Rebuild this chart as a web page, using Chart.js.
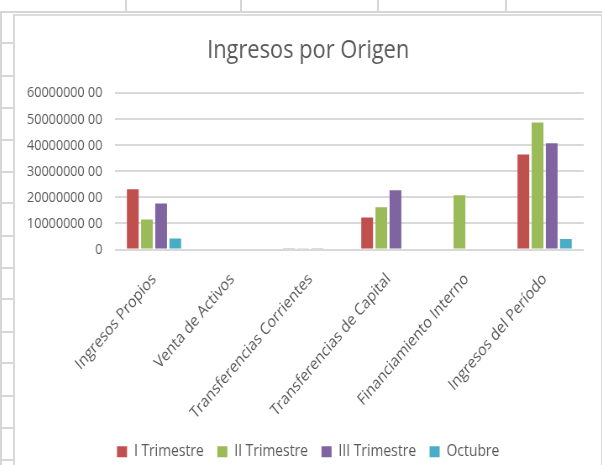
<!DOCTYPE html>
<html>
<head>
<meta charset="utf-8">
<script src="https://cdn.jsdelivr.net/npm/chart.js@4.4.1/dist/chart.umd.min.js"></script>
<style>
  html, body { margin: 0; padding: 0; background: #ffffff; overflow: hidden; }
  body { width: 602px; height: 465px; position: relative; }
  .ln { position: absolute; background: #d6d6d6; }
  #panel { position: absolute; left: 13px; top: 14px; width: 586px; height: 460px;
           background: #ffffff; border-left: 2px solid #d9d9d9; border-top: 2px solid #dcdcdc;
           border-right: 2px solid #d9d9d9; overflow: hidden; }
  #c { position: absolute; left: 0; top: -2px; transform: scaleX(0.84); transform-origin: 0 0; }
</style>
</head>
<body>
<div id="bg"></div>
<div id="panel"><canvas id="c" width="698" height="465"></canvas></div>
<script>
// ---- data ----
const categories = ["Ingresos Propios", "Venta de Activos", "Transferencias Corrientes",
                    "Transferencias de Capital", "Financiamiento Interno", "Ingresos del Período"];
const seriesNames = ["I Trimestre", "II Trimestre", "III Trimestre", "Octubre"];
const trimestre1 = [2310000000, 0, 50000000, 1230000000, 0, 3650000000];
const trimestre2 = [1150000000, 0, 50000000, 1620000000, 2080000000, 4880000000];
const trimestre3 = [1770000000, 0, 50000000, 2270000000, 0, 4080000000];
const octubre    = [420000000, 0, 0, 0, 0, 400000000];
const tickValues = [0, 1000000000, 2000000000, 3000000000, 4000000000, 5000000000, 6000000000];
const tickLabels = ["0", "10000000 00", "20000000 00", "30000000 00", "40000000 00", "50000000 00", "60000000 00"];

// ---- spreadsheet background ----
const bg = document.getElementById('bg');
function addLine(l, t, w, h) {
  const d = document.createElement('div'); d.className = 'ln';
  d.style.left = l + 'px'; d.style.top = t + 'px'; d.style.width = w + 'px'; d.style.height = h + 'px';
  bg.appendChild(d);
}
addLine(0, 11, 602, 2);
[125, 240, 377, 505].forEach(x => addLine(x, 0, 2, 12));
addLine(0, 13, 2, 452);
[43, 76, 108, 140, 172, 203, 236, 268, 299, 332, 363, 396, 428, 460].forEach(y => addLine(0, y - 1, 13, 2));

// ---- chart ----
const colors = ["#C0504D", "#9BBB59", "#8064A2", "#4BACC6"];
const values = [trimestre1, trimestre2, trimestre3, octubre];
const font = "'Open Sans', 'Noto Sans', sans-serif";

new Chart(document.getElementById('c'), {
  type: 'bar',
  data: {
    labels: categories,
    datasets: seriesNames.map((n, i) => ({
      label: n, data: values[i], backgroundColor: colors[i], borderWidth: 0, yAxisID: 'y',
      categoryPercentage: 0.725, barPercentage: 0.83
    }))
  },
  options: {
    responsive: false, animation: false, devicePixelRatio: 1,
    layout: { padding: { left: 0, right: 0, top: 0, bottom: 9 } },
    plugins: {
      title: { display: true, text: 'Ingresos por Origen', color: '#595959',
               font: { family: font, size: 26, weight: 'normal' }, padding: { top: 21, bottom: 27 } },
      legend: { position: 'bottom',
                labels: { color: '#595959', font: { family: font, size: 16.5 }, boxWidth: 12, boxHeight: 11, padding: 16 } },
      tooltip: { enabled: false }
    },
    scales: {
      x: {
        grid: { display: false, drawTicks: false }, border: { display: false },
        ticks: { color: '#595959', font: { family: font, size: 16.5 }, maxRotation: 45, minRotation: 45, padding: 20, autoSkip: false },
        afterFit: s => { s.height = 178; }
      },
      y: {
        min: 0, max: 6000000000,
        grid: { color: '#d9d9d9', lineWidth: 2, drawTicks: false }, border: { display: false },
        afterBuildTicks: s => { s.ticks = tickValues.map(v => ({ value: v })); },
        ticks: { color: '#595959', font: { family: font, size: 15 }, padding: 15,
                 callback: (v) => tickLabels[tickValues.indexOf(v)] },
        afterFit: s => { s.width = 119; }
      },
      yR: {
        position: 'right', min: 0, max: 6000000000,
        grid: { display: false, drawTicks: false }, border: { display: false },
        ticks: { display: false },
        afterFit: s => { s.width = 21; }
      }
    }
  }
});
</script>
</body>
</html>
